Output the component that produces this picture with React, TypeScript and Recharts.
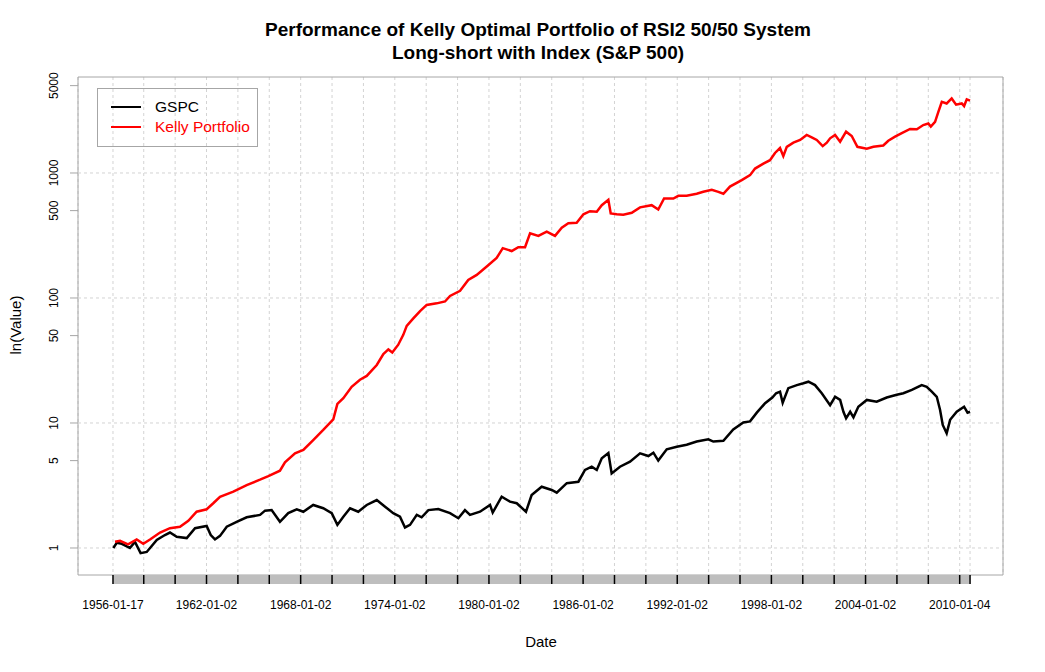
import React from "react";
import {
  CartesianGrid,
  Line,
  LineChart,
  ReferenceArea,
  ReferenceLine,
  XAxis,
  YAxis,
} from "recharts";

const FONT = '"Liberation Sans", Arial, sans-serif';
const BOX = "#A6A6A6";
const GRID = "#D3D3D3";

// decimal years
const KELLY_T = [
  1956.17, 1956.49, 1957.0, 1957.55, 1957.97, 1958.4, 1959.04, 1959.67, 1960.31, 1960.84,
  1961.37, 1962.01, 1962.43, 1962.86, 1963.71, 1964.56, 1965.41, 1965.94, 1966.68, 1967.0,
  1967.64, 1968.17, 1968.8, 1969.44, 1970.08, 1970.34, 1970.72, 1971.25, 1971.78, 1972.21,
  1972.85, 1973.27, 1973.59, 1973.84, 1974.22, 1974.54, 1974.76, 1975.18, 1975.61, 1976.03,
  1976.67, 1977.2, 1977.52, 1978.16, 1978.68, 1979.22, 1979.86, 1980.49, 1980.88, 1981.45,
  1981.87, 1982.3, 1982.62, 1983.15, 1983.68, 1984.21, 1984.64, 1985.06, 1985.59, 1986.02,
  1986.44, 1986.87, 1987.19, 1987.61, 1987.76, 1988.14, 1988.56, 1989.1, 1989.63, 1990.37,
  1990.79, 1991.16, 1991.75, 1992.07, 1992.6, 1993.24, 1993.66, 1994.2, 1994.62, 1994.94,
  1995.36, 1996.11, 1996.64, 1996.96, 1997.49, 1997.91, 1998.23, 1998.55, 1998.76, 1998.98,
  1999.4, 1999.83, 2000.25, 2000.57, 2000.89, 2001.27, 2001.53, 2001.74, 2002.06, 2002.38,
  2002.76, 2003.12, 2003.48, 2004.08, 2004.5, 2005.13, 2005.45, 2005.88, 2006.31, 2006.84,
  2007.27, 2007.68, 2008.0, 2008.16, 2008.43, 2008.64, 2008.86, 2009.17, 2009.49, 2009.77,
  2010.13, 2010.28, 2010.45, 2010.66,
];
const KELLY_V = [
  1.12, 1.14, 1.07, 1.17, 1.08, 1.17, 1.33, 1.44, 1.48, 1.65,
  1.95, 2.04, 2.28, 2.57, 2.82, 3.19, 3.52, 3.76, 4.15, 4.85,
  5.72, 6.09, 7.3, 8.8, 10.7, 14.2, 15.8, 19.5, 22.2, 23.8,
  29.1, 35.6, 38.8, 36.7, 42.3, 50.7, 59.9, 68.7, 78.6, 88.0,
  90.6, 93.8, 103.9, 114.3, 139.3, 153, 178.7, 208.9, 250.6, 237.4,
  255, 255, 329.8, 314, 340, 314, 365, 396, 400, 467,
  495, 490, 553, 610, 475, 467, 463, 480, 531, 553,
  510, 625, 625, 657, 657, 682, 707, 735, 707, 682,
  779, 877, 961, 1085, 1188, 1265, 1446, 1585, 1365, 1619,
  1747, 1837, 2015, 1930, 1837, 1640, 1747, 1894, 2015, 1778,
  2142, 1977, 1619, 1562, 1619, 1660, 1810, 1953, 2085, 2250,
  2240, 2420, 2490, 2350, 2560, 3080, 3710, 3600, 3950, 3520,
  3600, 3430, 3880, 3790,
];

const GSPC_T = [
  1956.06, 1956.28, 1956.6, 1957.12, 1957.44, 1957.8, 1958.19, 1958.83, 1959.35, 1959.67,
  1960.1, 1960.74, 1961.27, 1962.01, 1962.27, 1962.54, 1962.86, 1963.29, 1963.92, 1964.56,
  1965.41, 1965.73, 1966.15, 1966.68, 1967.21, 1967.75, 1968.17, 1968.8, 1969.44, 1969.98,
  1970.34, 1970.72, 1971.15, 1971.67, 1972.21, 1972.85, 1973.38, 1973.9, 1974.33, 1974.65,
  1974.97, 1975.4, 1975.71, 1976.14, 1976.77, 1977.52, 1978.05, 1978.47, 1978.79, 1979.43,
  1980.07, 1980.24, 1980.81, 1981.34, 1981.77, 1982.36, 1982.72, 1983.36, 1984.0, 1984.32,
  1984.96, 1985.7, 1986.12, 1986.55, 1986.87, 1987.19, 1987.61, 1987.82, 1988.35, 1988.99,
  1989.63, 1990.16, 1990.48, 1990.79, 1991.33, 1991.97, 1992.6, 1993.24, 1993.98, 1994.3,
  1994.94, 1995.57, 1996.21, 1996.64, 1997.07, 1997.6, 1998.06, 1998.3, 1998.55, 1998.72,
  1999.08, 1999.62, 2000.04, 2000.36, 2000.78, 2001.21, 2001.74, 2002.06, 2002.38, 2002.59,
  2002.76, 2003.02, 2003.23, 2003.54, 2004.08, 2004.71, 2005.35, 2005.99, 2006.41, 2006.95,
  2007.58, 2007.9, 2008.22, 2008.54, 2008.75, 2008.92, 2009.17, 2009.39, 2009.81, 2010.28,
  2010.5, 2010.66,
];
const GSPC_V = [
  1.0, 1.1, 1.08, 1.0, 1.12, 0.91, 0.93, 1.16, 1.27, 1.33,
  1.23, 1.2, 1.44, 1.5, 1.27, 1.17, 1.25, 1.48, 1.62, 1.76,
  1.84, 1.99, 2.01, 1.62, 1.9, 2.04, 1.95, 2.21, 2.08, 1.9,
  1.53, 1.78, 2.08, 1.95, 2.21, 2.42, 2.14, 1.9, 1.78, 1.46,
  1.53, 1.84, 1.76, 2.01, 2.05, 1.9, 1.73, 2.01, 1.84, 1.95,
  2.21, 1.92, 2.57, 2.35, 2.28, 1.95, 2.65, 3.09, 2.91, 2.77,
  3.3, 3.39, 4.21, 4.47, 4.21, 5.23, 5.75, 3.95, 4.47, 4.9,
  5.72, 5.44, 5.79, 5.0, 6.16, 6.45, 6.69, 7.1, 7.41, 7.1,
  7.2, 8.89, 10.1, 10.3, 12.1, 14.4, 16.0, 17.3, 17.8, 14.5,
  19.0, 20.1, 20.8, 21.4, 20.1, 17.3, 13.9, 16.2, 15.3, 12.3,
  10.9, 12.3, 11.1, 13.5, 15.3, 14.8, 16.0, 16.8, 17.3, 18.4,
  20.1, 19.5, 17.8, 16.2, 12.7, 9.65, 8.27, 10.6, 12.3, 13.5,
  12.1, 12.3,
];

const TICK_T = [
  1956.04, 1958, 1960, 1962, 1964, 1966, 1968, 1970, 1972, 1974, 1976, 1978, 1980, 1982,
  1984, 1986, 1988, 1990, 1992, 1994, 1996, 1998, 2000, 2002, 2004, 2006, 2008, 2010, 2010.66,
];
const TICK_LABELS = [
  "1956-01-17", "", "", "1962-01-02", "", "", "1968-01-02", "", "", "1974-01-02", "", "",
  "1980-01-02", "", "", "1986-01-02", "", "", "1992-01-02", "", "", "1998-01-02", "", "",
  "2004-01-02", "", "", "2010-01-04", "",
];
const Y_TICKS = [1, 5, 10, 50, 100, 500, 1000, 5000];
const Y_GRID = [1, 10, 100, 1000];

const X_DOMAIN = [1953.81, 2012.76];
const Y_DOMAIN = [0.608, 5861];
const BAR_BOTTOM = 0.515;

const kelly = KELLY_T.map((t, i) => ({ t, v: KELLY_V[i] }));
const gspc = GSPC_T.map((t, i) => ({ t, v: GSPC_V[i] }));

function DateTick(props: any) {
  const { x, y, payload } = props;
  const i = TICK_T.indexOf(payload.value);
  const label = TICK_LABELS[i];
  return (
    <g>
      <line x1={x} x2={x} y1={y} y2={y + 9} stroke="#000" strokeWidth={1.5} />
      {label ? (
        <text x={x} y={y + 34} textAnchor="middle" fontSize={12} fill="#000" fontFamily={FONT}>
          {label}
        </text>
      ) : null}
    </g>
  );
}

function ValueTick(props: any) {
  const { x, y, payload } = props;
  const tx = x - 12;
  return (
    <text
      x={tx}
      y={y}
      transform={`rotate(-90, ${tx}, ${y})`}
      textAnchor="middle"
      fontSize={12}
      fill="#000"
      fontFamily={FONT}
    >
      {payload.value}
    </text>
  );
}

export default function App() {
  return (
    <div
      style={{
        position: "absolute",
        left: 0,
        top: 0,
        width: 1045,
        height: 672,
        background: "#fff",
        fontFamily: FONT,
      }}
    >
      <div style={{ position: "absolute", left: 0, width: 1076, top: 18, textAlign: "center", fontWeight: "bold", fontSize: 19, lineHeight: "23px" }}>
        Performance of Kelly Optimal Portfolio of RSI2 50/50 System
        <br />
        Long-short with Index (S&amp;P 500)
      </div>
      <div style={{ position: "absolute", left: 0, width: 1082, top: 633, textAlign: "center", fontSize: 15 }}>
        Date
      </div>
      <div
        style={{
          position: "absolute",
          left: 15,
          top: 325,
          transform: "translate(-50%, -50%) rotate(-90deg)",
          fontSize: 15,
          whiteSpace: "nowrap",
        }}
      >
        ln(Value)
      </div>

      <LineChart width={1045} height={672} margin={{ top: 77, right: 42, bottom: 0, left: 0 }}>
        <CartesianGrid vertical horizontal={false} stroke={GRID} strokeDasharray="3 3" />
        {Y_GRID.map((v) => (
          <ReferenceLine key={v} y={v} stroke={GRID} strokeDasharray="3 3" />
        ))}
        <ReferenceArea
          x1={X_DOMAIN[0]}
          x2={X_DOMAIN[1]}
          y1={Y_DOMAIN[0]}
          y2={Y_DOMAIN[1]}
          fill="none"
          stroke={BOX}
          strokeWidth={1}
        />
        <ReferenceArea
          x1={TICK_T[0]}
          x2={TICK_T[TICK_T.length - 1]}
          y1={BAR_BOTTOM}
          y2={Y_DOMAIN[0]}
          fill="#BEBEBE"
          fillOpacity={1}
          stroke="none"
          ifOverflow="visible"
        />
        <XAxis
          type="number"
          dataKey="t"
          domain={X_DOMAIN}
          allowDataOverflow
          ticks={TICK_T}
          interval={0}
          height={97}
          axisLine={false}
          tickLine={false}
          tickSize={0}
          tickMargin={0}
          tick={<DateTick />}
        />
        <YAxis
          scale="log"
          domain={Y_DOMAIN}
          allowDataOverflow
          ticks={Y_TICKS}
          interval={0}
          width={78}
          axisLine={false}
          tickLine={{ stroke: BOX }}
          tickSize={8}
          tickMargin={0}
          tick={<ValueTick />}
        />
        <Line data={gspc} dataKey="v" name="GSPC" stroke="#000" strokeWidth={2.5} dot={false} isAnimationActive={false} />
        <Line data={kelly} dataKey="v" name="Kelly Portfolio" stroke="#FF0000" strokeWidth={2.5} dot={false} isAnimationActive={false} />
      </LineChart>

      <div
        style={{
          position: "absolute",
          left: 97,
          top: 88,
          width: 159,
          height: 57,
          border: `1px solid ${BOX}`,
          fontSize: 15.5,
        }}
      >
        {[
          { name: "GSPC", color: "#000" },
          { name: "Kelly Portfolio", color: "#FF0000" },
        ].map((s, i) => (
          <div key={s.name} style={{ position: "absolute", left: 13, top: 8 + i * 20, height: 20, display: "flex", alignItems: "center", color: s.color }}>
            <span style={{ display: "inline-block", width: 30, height: 2.5, background: s.color, marginRight: 14 }} />
            {s.name}
          </div>
        ))}
      </div>
    </div>
  );
}
